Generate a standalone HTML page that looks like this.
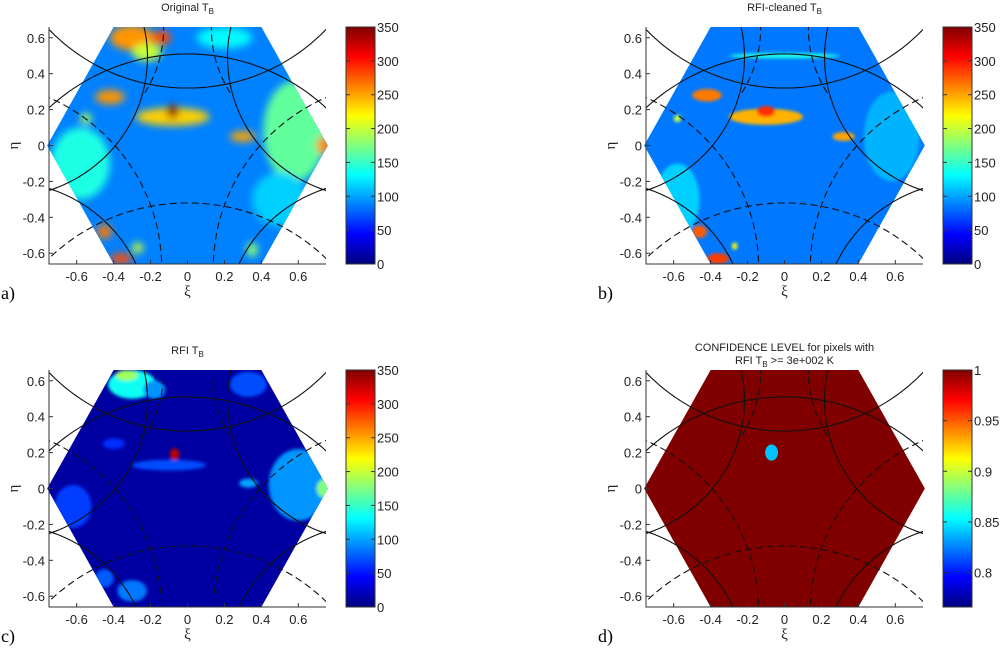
<!DOCTYPE html>
<html><head><meta charset="utf-8"><style>
html,body{margin:0;padding:0;background:#fff;overflow:hidden;width:1000px;height:650px;}
svg{display:block;font-family:"Liberation Sans",sans-serif;}
</style></head><body>
<svg id="fig" width="1000" height="650" viewBox="0 0 1000 650" overflow="hidden">
<defs>
<filter id="blur4" x="-50%" y="-50%" width="200%" height="200%"><feGaussianBlur stdDeviation="4"/></filter>
<filter id="blur2" x="-50%" y="-50%" width="200%" height="200%"><feGaussianBlur stdDeviation="1.5"/></filter>
</defs>
</svg>
<script>
// ---- data ----
const xiTicks = [-0.6,-0.4,-0.2,0,0.2,0.4,0.6];
const etaTicks = [-0.6,-0.4,-0.2,0,0.2,0.4,0.6];
const tbTicks = [0,50,100,150,200,250,300,350];
const confTicks = [0.8,0.85,0.9,0.95,1];
const hexXi = [-0.40,0.40,0.76,0.40,-0.40,-0.76];
const hexEta = [0.66,0.66,0,-0.66,-0.66,0];
// blobs: [xi, eta, rx, ry, value]
const blobsA = [
 [-0.58,-0.1,0.16,0.2,140],[0.58,0.08,0.17,0.28,165],[0.2,0.6,0.15,0.06,130],[0.5,-0.3,0.15,0.15,115],
 [-0.3,0.6,0.12,0.07,255],[-0.22,0.52,0.08,0.05,200],[-0.14,0.6,0.05,0.04,280],
 [-0.42,0.27,0.08,0.04,255],[-0.55,0.15,0.03,0.03,190],
 [-0.08,0.16,0.2,0.05,235],[-0.08,0.19,0.03,0.04,345],
 [0.3,0.05,0.07,0.03,250],[0.74,0.0,0.04,0.05,260],
 [-0.45,-0.48,0.04,0.04,265],[-0.36,-0.63,0.06,0.03,280],[-0.27,-0.57,0.03,0.03,200],[0.35,-0.58,0.03,0.04,180]
];
const blobsB = [
 [-0.58,-0.3,0.12,0.2,115],[0.58,0.05,0.15,0.25,105],[0,0.5,0.3,0.015,140],
 [-0.42,0.28,0.08,0.035,265],[-0.58,0.15,0.02,0.02,200],
 [-0.1,0.16,0.2,0.045,245],[-0.1,0.19,0.05,0.03,290],
 [0.32,0.05,0.06,0.025,250],
 [-0.46,-0.48,0.04,0.035,275],[-0.36,-0.63,0.06,0.03,285],[-0.27,-0.56,0.015,0.02,220]
];
const blobsC = [
 [-0.3,0.58,0.13,0.08,135],[-0.33,0.63,0.06,0.03,185],[-0.18,0.55,0.06,0.05,95],[0.33,0.58,0.1,0.07,70],
 [0.6,0.02,0.16,0.2,95],[0.74,0.0,0.04,0.05,175],[-0.62,-0.1,0.1,0.12,65],
 [-0.07,0.19,0.025,0.035,330],[-0.1,0.13,0.2,0.03,70],[-0.4,0.25,0.06,0.03,60],[0.33,0.03,0.05,0.025,100],
 [-0.3,-0.57,0.08,0.06,85],[-0.45,-0.5,0.05,0.05,75]
];
const blobsD = [[-0.07,0.2,0.035,0.045,0.84]];
// curves: 3 points each [xi,eta]
const solidCurves = [
 [[-0.78,0.18],[0,0.51],[0.78,0.18]],
 [[-0.78,0.68],[0,0.32],[0.78,0.68]],
 [[-0.78,-0.26],[-0.39,0],[-0.24,0.68]],
 [[0.78,-0.26],[0.39,0],[0.24,0.68]],
 [[-0.78,-0.23],[-0.45,-0.42],[-0.27,-0.68]],
 [[0.78,-0.23],[0.45,-0.42],[0.27,-0.68]]
];
const dashedCurves = [
 [[-0.78,-0.66],[0,-0.32],[0.78,-0.66]],
 [[-0.78,0.28],[-0.42,0.03],[-0.14,-0.68]],
 [[0.78,0.28],[0.42,0.03],[0.14,-0.68]],
 [[-0.13,0.68],[-0.16,0.45],[-0.24,0.28]],
 [[0.13,0.68],[0.16,0.45],[0.24,0.28]]
];
// ---- drawing ----
const NS="http://www.w3.org/2000/svg";
const fig=document.getElementById('fig');
function mk(tag,attrs,parent){const e=document.createElementNS(NS,tag);for(const k in attrs)e.setAttribute(k,attrs[k]);(parent||fig).appendChild(e);return e;}
function jet(t){t=Math.max(0,Math.min(1,t));
 const r=Math.max(0,Math.min(1,Math.min(4*t-1.5,-4*t+4.5)));
 const g=Math.max(0,Math.min(1,Math.min(4*t-0.5,-4*t+3.5)));
 const b=Math.max(0,Math.min(1,Math.min(4*t+0.5,-4*t+2.5)));
 return `rgb(${Math.round(r*255)},${Math.round(g*255)},${Math.round(b*255)})`;}
function circ(p){const [a,b,c]=p;const d=2*(a[0]*(b[1]-c[1])+b[0]*(c[1]-a[1])+c[0]*(a[1]-b[1]));
 const A=a[0]**2+a[1]**2,B=b[0]**2+b[1]**2,C=c[0]**2+c[1]**2;
 const ux=(A*(b[1]-c[1])+B*(c[1]-a[1])+C*(a[1]-b[1]))/d, uy=(A*(c[0]-b[0])+B*(a[0]-c[0])+C*(b[0]-a[0]))/d;
 return [ux,uy,Math.hypot(a[0]-ux,a[1]-uy)];}
function arcPts(p){const [ux,uy,r]=circ(p);
 const ang=q=>Math.atan2(q[1]-uy,q[0]-ux);
 let a1=ang(p[0]),a2=ang(p[1]),a3=ang(p[2]);
 const norm=x=>{while(x<0)x+=2*Math.PI;while(x>=2*Math.PI)x-=2*Math.PI;return x;};
 let d3=norm(a3-a1),d2=norm(a2-a1);
 let span=d2<=d3?d3:d3-2*Math.PI;
 const pts=[];for(let i=0;i<=80;i++){const a=a1+span*i/80;pts.push([ux+r*Math.cos(a),uy+r*Math.sin(a)]);}
 return pts;}
let pid=0;
function panel(ox,oy,title,title2,letter,base,blobs,vmin,vmax,cticks,ctickFmt,blurId,name){
 pid++;
 const L=ox+49,R=ox+326,T=oy+27,B=oy+264;
 const X=v=>L+(v+0.75)/1.5*(R-L), Y=v=>B-(v+0.66)/1.32*(B-T);
 const g=mk('g',{});
 
 
 const cp=mk('clipPath',{id:'hex'+pid},g);
 mk('polygon',{points:hexXi.map((x,i)=>X(x)+','+Y(hexEta[i])).join(' ')},cp);
 const cb=mk('clipPath',{id:'box'+pid},g);
 mk('rect',{x:L,y:T,width:R-L,height:B-T},cb);
 const mapg=mk('g',{'clip-path':`url(#hex${pid})`},g);
 
 
 const norm=v=>(v-vmin)/(vmax-vmin);
 mk('rect',{x:L-10,y:T-10,width:R-L+20,height:B-T+20,fill:jet(norm(base))},mapg);
 const bg=mk('g',blurId?{filter:`url(#${blurId})`}:{},mapg);
 blobs.forEach(b=>{const e=mk('ellipse',{cx:X(b[0]),cy:Y(b[1]),rx:b[2]*(R-L)/1.5,ry:b[3]*(B-T)/1.32,fill:jet(norm(b[4]))},bg);
  
  });
 const lg=mk('g',{'clip-path':`url(#box${pid})`,fill:'none',stroke:'#111','stroke-width':1.1},g);
 const toPath=pts=>'M'+pts.map(q=>X(q[0]).toFixed(1)+','+Y(q[1]).toFixed(1)).join('L');
 solidCurves.forEach(c=>{const e=mk('path',{d:toPath(arcPts(c))},lg);
  });
 dashedCurves.forEach(c=>{const e=mk('path',{d:toPath(arcPts(c)),'stroke-dasharray':'7,4'},lg);
  });
 // axes
 mk('path',{d:`M${L},${T}V${B}H${R}`,stroke:'#333',fill:'none','stroke-width':1},g);
 xiTicks.forEach(t=>{mk('line',{x1:X(t),x2:X(t),y1:B,y2:B-4,stroke:'#333'},g);
  const e=mk('text',{x:X(t),y:B+17,'text-anchor':'middle','font-size':13,fill:'#222'},g);e.textContent=t;
  });
 etaTicks.forEach(t=>{mk('line',{x1:L,x2:L+4,y1:Y(t),y2:Y(t),stroke:'#333'},g);
  const e=mk('text',{x:L-4,y:Y(t)+5,'text-anchor':'end','font-size':13,fill:'#222'},g);e.textContent=t;
  });
 const xl=mk('text',{x:(L+R)/2,y:B+32,'text-anchor':'middle','font-size':15,fill:'#222','font-family':'Liberation Serif,serif'},g);xl.textContent='ξ';
 
 const yl=mk('text',{x:ox+18,y:(T+B)/2,'text-anchor':'middle','font-size':15,fill:'#222','font-family':'Liberation Serif,serif',transform:`rotate(-90 ${ox+18} ${(T+B)/2})`},g);yl.textContent='η';
 
 const lt=mk('text',{x:ox+1,y:oy+299,'font-size':18,fill:'#000','font-family':'Liberation Serif,serif'},g);lt.textContent=letter;
 
 // title
 const tg=mk('g',{},g);
 
 function ttl(str,y){const tx=mk('text',{x:(L+R)/2,y:y,'text-anchor':'middle','font-size':11,fill:'#222'},tg);
  const parts=str.split('T_B');tx.appendChild(document.createTextNode(parts[0]+'T'));
  const s=mk('tspan',{'font-size':8,dy:3},tx);s.textContent='B';
  if(parts[1]){const s2=mk('tspan',{dy:-3},tx);s2.textContent=parts[1];}}
 if(title2){const t1=mk('text',{x:(L+R)/2,y:oy+8,'text-anchor':'middle','font-size':11,fill:'#222'},tg);t1.textContent=title;ttl(title2,oy+21);}
 else ttl(title,oy+11);
 // colorbar
 const cx0=ox+346,cx1=ox+375;
 const gid='grad'+pid;const gr=mk('linearGradient',{id:gid,x1:0,y1:1,x2:0,y2:0},g);
 for(let i=0;i<=16;i++)mk('stop',{offset:i/16,'stop-color':jet(i/16)},gr);
 const cbar=mk('rect',{x:cx0,y:T,width:cx1-cx0,height:B-T,fill:`url(#${gid})`,stroke:'#333'},g);
 
 const CY=v=>B-(v-vmin)/(vmax-vmin)*(B-T);
 cticks.forEach(t=>{const y=CY(t);mk('line',{x1:cx1-4,x2:cx1,y1:y,y2:y,stroke:'#333'},g);mk('line',{x1:cx0,x2:cx0+4,y1:y,y2:y,stroke:'#333'},g);
  const e=mk('text',{x:cx1+2,y:y+5,'font-size':13,fill:'#222'},g);e.textContent=ctickFmt(t);
  });
}
panel(0,0,'Original T_B',null,'a)',88,blobsA,0,350,tbTicks,t=>t,'blur4','panel-original');
panel(597,0,'RFI-cleaned T_B',null,'b)',85,blobsB,0,350,tbTicks,t=>t,'blur2','panel-rfi-cleaned');
panel(0,343,'RFI T_B',null,'c)',12,blobsC,0,350,tbTicks,t=>t,'blur2','panel-rfi');
panel(597,343,'CONFIDENCE LEVEL for pixels with','RFI T_B >= 3e+002 K','d)',1.0,blobsD,0.766,1,confTicks,t=>t,null,'panel-confidence');
</script>
</body></html>
